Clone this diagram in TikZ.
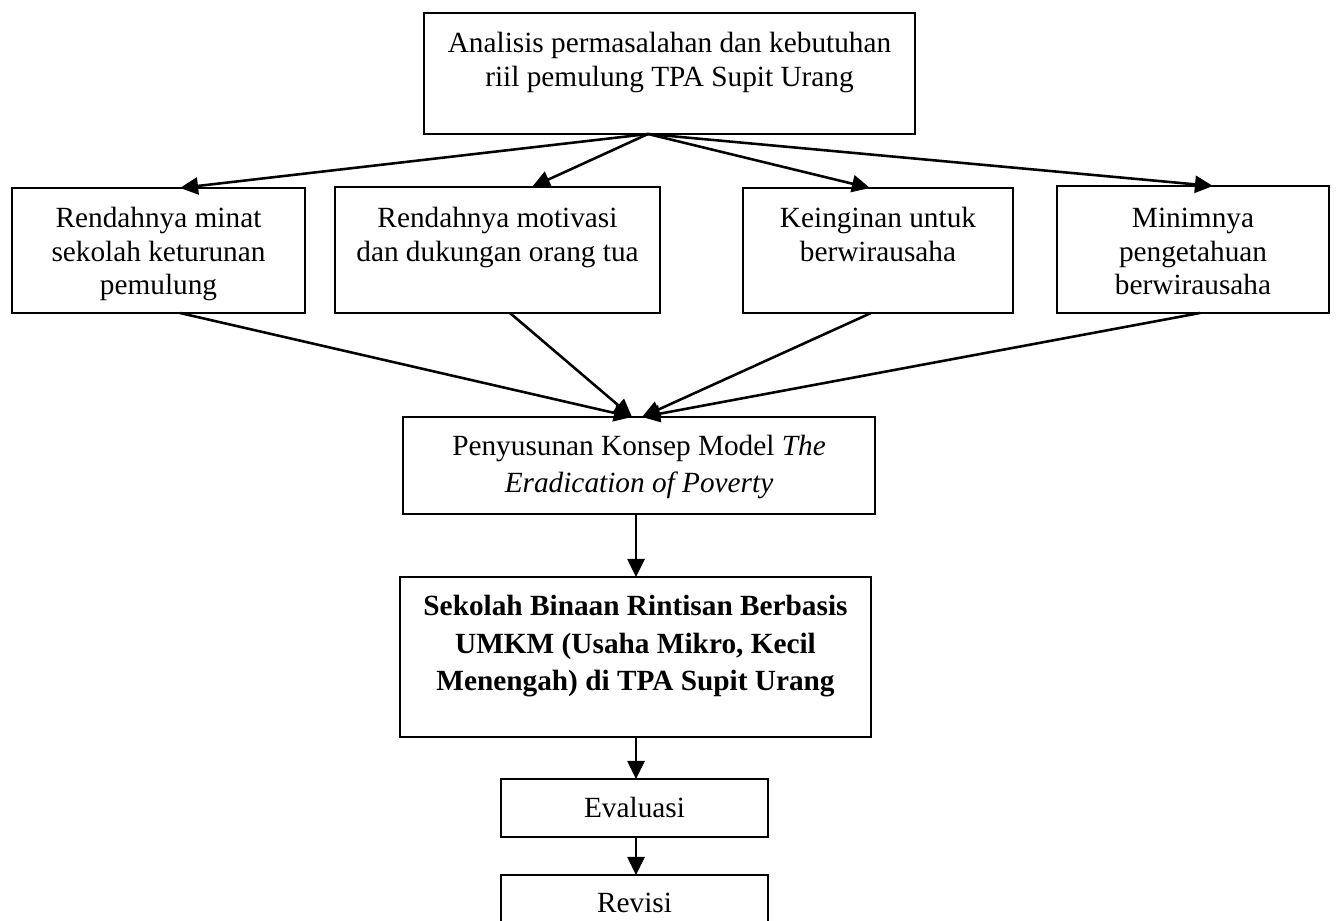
\documentclass[tikz,border=0pt]{standalone}
\usepackage{fontspec}
\setmainfont{Liberation Serif}
\usetikzlibrary{arrows.meta,calc}
\newlength\pxu
\setlength\pxu{0.4096pt}
\begin{document}
\begin{tikzpicture}[x=0.4096pt, y=-0.4096pt,
  box/.style={draw, line width=0.9pt, inner sep=0pt, outer sep=0pt},
  txt/.style={inner sep=0pt, align=center, anchor=north, font=\fontsize{12}{13.8}\selectfont},
  arr/.style={line width=1.05pt, -{Triangle[length=7.4pt, width=7pt]}}]
\path[use as bounding box] (0,0) rectangle (1339,920);
\clip (0,0) rectangle (1339,920);

\node[box, minimum width=491\pxu, minimum height=121\pxu] (top) at (669.5,73.5) {};
\node[txt] (ttop) at (669.5,28.6) {\strut Analisis permasalahan dan kebutuhan\\riil pemulung TPA Supit Urang};

\node[box, minimum width=293\pxu, minimum height=125\pxu] (b1) at (158.5,250.5) {};
\node[txt] (tb1) at (158.5,203.4) {\strut Rendahnya minat\\sekolah keturunan\\pemulung};

\node[box, minimum width=325\pxu, minimum height=126\pxu] (b2) at (497.5,250) {};
\node[txt] (tb2) at (497.5,203.4) {\strut Rendahnya motivasi\\dan dukungan orang tua};

\node[box, minimum width=270\pxu, minimum height=125\pxu] (b3) at (878,250.5) {};
\node[txt] (tb3) at (878,203.4) {\strut Keinginan untuk\\berwirausaha};

\node[box, minimum width=272\pxu, minimum height=127\pxu] (b4) at (1193,249.5) {};
\node[txt] (tb4) at (1193,203.4) {\strut Minimnya\\pengetahuan\\berwirausaha};

\node[box, minimum width=472\pxu, minimum height=97\pxu] (pen) at (639,465.5) {};
\node[txt, font=\fontsize{12}{15.2}\selectfont] (tpen) at (639,429) {\strut Penyusunan Konsep Model \textit{The}\\\textit{Eradication of Poverty}};

\node[box, minimum width=471\pxu, minimum height=160\pxu] (bold) at (635.5,657) {};
\node[txt, font=\fontsize{12}{15.4}\selectfont\bfseries] (tbold) at (635.5,588.7) {\strut Sekolah Binaan Rintisan Berbasis\\UMKM (Usaha Mikro, Kecil\\Menengah) di TPA Supit Urang};

\node[box, minimum width=267\pxu, minimum height=58\pxu] (eval) at (634.5,808) {};
\node[txt] (teval) at (634.5,793.4) {\strut Evaluasi};

\node[box, minimum width=267\pxu, minimum height=58\pxu] (rev) at (634.5,904) {};
\node[txt] (trev) at (634.5,888.4) {\strut Revisi};

\draw[arr] ($(top.south west)+(224,0)$) -- ($(b1.north west)+(168,0)$);
\draw[arr] ($(top.south west)+(224,0)$) -- ($(b2.north west)+(197,0)$);
\draw[arr] ($(top.south west)+(224,0)$) -- ($(b3.north west)+(127,0)$);
\draw[arr] ($(top.south west)+(224,0)$) -- ($(b4.north west)+(156,0)$);

\draw[arr] ($(b1.south west)+(168,0)$) -- ($(pen.north west)+(229,0)$);
\draw[arr] ($(b2.south west)+(175,0)$) -- ($(pen.north west)+(229,0)$);
\draw[arr] ($(b3.south west)+(128,0)$) -- ($(pen.north west)+(239,0)$);
\draw[arr] ($(b4.south west)+(143,0)$) -- ($(pen.north west)+(239,0)$);

\draw[arr] ($(pen.south west)+(233,0)$) -- ($(bold.north west)+(236,0)$);
\draw[arr] ($(bold.south west)+(236,0)$) -- ($(eval.north west)+(135,0)$);
\draw[arr] ($(eval.south west)+(135,0)$) -- ($(rev.north west)+(135,0)$);
\end{tikzpicture}
\end{document}
